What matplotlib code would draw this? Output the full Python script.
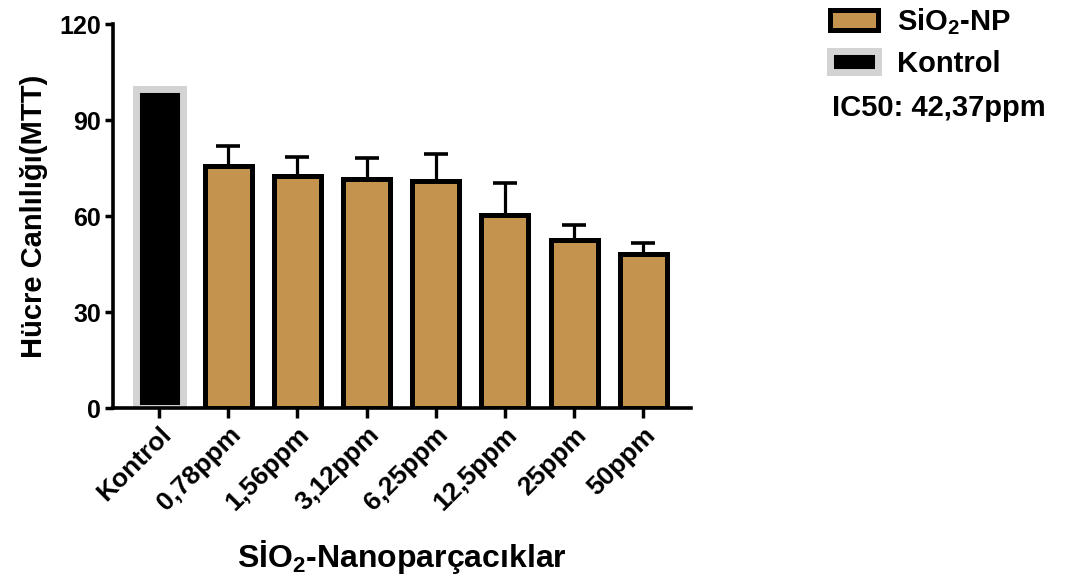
import numpy as np
import matplotlib.pyplot as plt
from matplotlib.patches import Patch
from matplotlib.transforms import ScaledTranslation

plt.rcParams['font.family'] = ['Liberation Sans', 'DejaVu Sans']
plt.rcParams['font.weight'] = 'bold'
plt.rcParams['mathtext.fontset'] = 'custom'
plt.rcParams['mathtext.rm'] = 'Liberation Sans:bold'
plt.rcParams['mathtext.it'] = 'Liberation Sans:bold'
plt.rcParams['mathtext.bf'] = 'Liberation Sans:bold'

categories = ['Kontrol', '0,78ppm', '1,56ppm', '3,12ppm', '6,25ppm', '12,5ppm', '25ppm', '50ppm']
viability = [99.6, 75.8, 72.5, 71.6, 71.0, 60.2, 52.5, 48.0]
sd_upper = [0, 6.1, 6.0, 6.4, 8.4, 10.0, 4.6, 3.5]

tan = '#C4944F'
gray = '#D3D3D3'

fig = plt.figure(figsize=(10.71, 5.88), dpi=100)
ax = fig.add_axes([0.1055, 0.306, 0.5397, 0.653])

x = np.arange(len(categories))
face = ['black'] + [tan] * (len(categories) - 1)
edge = [gray] + ['black'] * (len(categories) - 1)
lw = [5.0] + [3.6] * (len(categories) - 1)
ax.errorbar(x[1:], viability[1:], yerr=[np.zeros(len(x) - 1), sd_upper[1:]],
            fmt='none', ecolor='black', elinewidth=2.3, capsize=8.3, capthick=2.6, zorder=1)
ax.bar(x, viability, width=0.68, color=face, edgecolor=edge, linewidth=lw, zorder=2)

ax.set_xlim(-0.666, 7.69)
ax.set_ylim(0, 120)
ax.set_yticks([0, 30, 60, 90, 120])
ax.set_xticks(x)
ax.set_xticklabels(categories, rotation=45, ha='right', rotation_mode='anchor', fontsize=19)
shift = ScaledTranslation(3 / 100, -5 / 100, fig.dpi_scale_trans)
for lbl in ax.get_xticklabels():
    lbl.set_transform(lbl.get_transform() + shift)
ax.tick_params(axis='y', labelsize=18, width=2.5, length=5.8, pad=3)
ax.tick_params(axis='x', width=2.5, length=7)
for s in ['top', 'right']:
    ax.spines[s].set_visible(False)
for s in ['left', 'bottom']:
    ax.spines[s].set_linewidth(2.6)

ax.set_ylabel('Hücre Canlılığı(MTT)', fontsize=21, fontweight='bold')
ax.yaxis.set_label_coords(-0.112, 0.5)
ax.set_xlabel('SİO$_2$-Nanoparçacıklar', fontsize=23, fontweight='bold', va='baseline')
ax.xaxis.set_label_coords(0.5, -0.414)

handles = [Patch(facecolor=tan, edgecolor='black', linewidth=3.6, label='SiO$_2$-NP'),
           Patch(facecolor='black', edgecolor=gray, linewidth=5.0, label='Kontrol')]
fig.legend(handles=handles, loc='upper left', bbox_to_anchor=(0.7666, 1.005), frameon=False,
           fontsize=21, handlelength=1.64, handleheight=0.68, handletextpad=0.67,
           labelspacing=0.45, borderpad=0.3, borderaxespad=0)
fig.text(0.777, 0.803, 'IC50: 42,37ppm', fontsize=21, fontweight='bold', va='baseline')

fig.savefig('out.png', dpi=100)
